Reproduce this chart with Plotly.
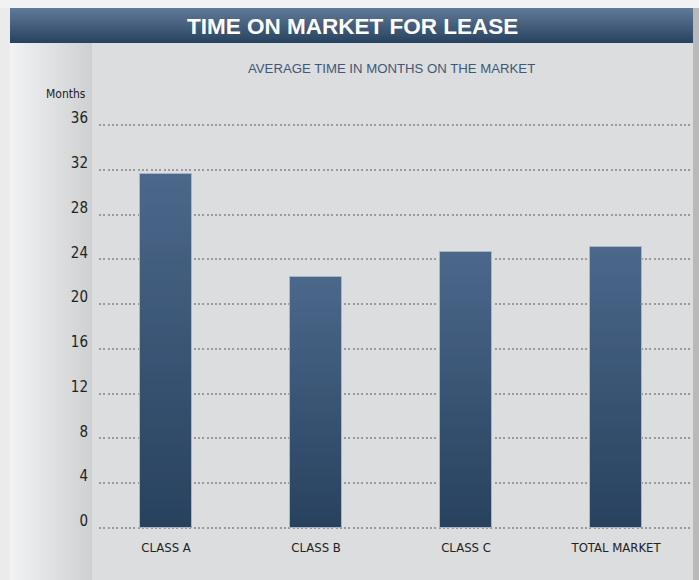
import plotly.graph_objects as go

# ---- data ----
categories = ["CLASS A", "CLASS B", "CLASS C", "TOTAL MARKET"]
months = [31.6, 22.4, 24.7, 25.1]
y_ticks = [0, 4, 8, 12, 16, 20, 24, 28, 32, 36]
title_text = "TIME ON MARKET FOR LEASE"
subtitle_text = "AVERAGE TIME IN MONTHS ON THE MARKET"
y_unit = "Months"

W, H = 699, 580
ML, MR, MT, MB = 99, 9, 120, 46
PW, PH = W - ML - MR, H - MT - MB
NARROW = "DejaVu Sans Condensed, Liberation Sans Narrow, Arial Narrow, sans-serif"


def px_x(px):
    return (px - ML) / PW


def px_y(py):
    return (H - MB - py) / PH


def lerp(c1, c2, t):
    a = [int(c1[i:i + 2], 16) for i in (1, 3, 5)]
    b = [int(c2[i:i + 2], 16) for i in (1, 3, 5)]
    return "rgb(%d,%d,%d)" % tuple(round(a[i] + (b[i] - a[i]) * t) for i in range(3))


fig = go.Figure()

# gradient bars built as stacked slices of each bar's value
N = 50
BOTTOM, TOP = "#28425e", "#4b678a"
xs = list(range(len(categories)))
for k in range(N):
    bases = [v * k / N for v in months]
    hts = [min(v * 1.6 / N, v - b) for v, b in zip(months, bases)]
    fig.add_trace(go.Bar(
        x=xs, y=hts, base=bases, width=0.345,
        marker=dict(color=lerp(BOTTOM, TOP, k / (N - 1)), line=dict(width=0)),
        showlegend=False, hoverinfo="skip"))

# thin light outline on bars
fig.add_trace(go.Bar(
    x=xs, y=months, width=0.345,
    marker=dict(color="rgba(0,0,0,0)", line=dict(width=1, color="#a9b5c4")),
    showlegend=False, hovertemplate="%{y}<extra></extra>"))

shapes = []
shapes.append(dict(type="rect", xref="paper", yref="paper", x0=px_x(0), x1=px_x(W),
                   y0=px_y(8), y1=px_y(0), fillcolor="#f2f2f2", line=dict(width=0), layer="below"))
shapes.append(dict(type="rect", xref="paper", yref="paper", x0=px_x(0), x1=px_x(10),
                   y0=px_y(H), y1=px_y(8), fillcolor="#ebebeb", line=dict(width=0), layer="below"))
shapes.append(dict(type="rect", xref="paper", yref="paper", x0=px_x(693), x1=px_x(W),
                   y0=px_y(H), y1=px_y(8), fillcolor="#b9b9b9", line=dict(width=0), layer="below"))
for i in range(10, 92):
    t = (i - 10) / 81
    shapes.append(dict(type="rect", xref="paper", yref="paper", x0=px_x(i), x1=px_x(min(i + 2, 92)),
                       y0=px_y(H), y1=px_y(43), fillcolor=lerp("#f1f2f2", "#cfd0d2", t),
                       line=dict(width=0), layer="below"))
for j in range(8, 43):
    t = (j - 8) / 34
    shapes.append(dict(type="rect", xref="paper", yref="paper", x0=px_x(10), x1=px_x(693),
                       y0=px_y(min(j + 2, 43)), y1=px_y(j), fillcolor=lerp("#617998", "#284360", t),
                       line=dict(width=0), layer="below"))

annotations = [
    dict(text="<b>" + title_text + "</b>", xref="paper", yref="paper", x=px_x(352), y=px_y(26),
         xanchor="center", yanchor="middle", showarrow=False,
         font=dict(family="Liberation Sans, Arial", size=22.5, color="#ffffff")),
    dict(text=subtitle_text, xref="paper", yref="paper", x=px_x(391), y=px_y(68),
         xanchor="center", yanchor="middle", showarrow=False,
         font=dict(family="Liberation Sans, Arial", size=13.2, color="#3e5877")),
    dict(text=y_unit, xref="paper", yref="paper", x=px_x(88), y=px_y(94),
         xanchor="right", yanchor="middle", showarrow=False,
         font=dict(family=NARROW, size=12, color="#222222")),
]

fig.update_layout(
    width=W, height=H,
    margin=dict(l=ML, r=MR, t=MT, b=MB, pad=0),
    paper_bgcolor="#dcdddf", plot_bgcolor="rgba(0,0,0,0)",
    barmode="overlay", bargap=0,
    showlegend=False,
    shapes=shapes, annotations=annotations,
    xaxis=dict(range=[-0.447, 3.493], tickmode="array", tickvals=xs, ticktext=categories,
               showgrid=False, zeroline=False, showline=False, ticks="",
               ticklabelstandoff=4,
               tickfont=dict(family=NARROW, size=13, color="#222222")),
    yaxis=dict(range=[-0.536, 36.447], tickmode="array", tickvals=y_ticks,
               showgrid=True, gridcolor="#9a9a9a", gridwidth=2, griddash="2px,2.3px",
               zeroline=False, showline=False, ticks="",
               ticklabelstandoff=10, ticklabelshift=-7,
               tickfont=dict(family=NARROW, size=15, color="#222222")),
)

fig.write_html("out.html", config={"displayModeBar": False},
               post_script="document.body.style.margin='0';document.body.style.overflow='hidden';")
